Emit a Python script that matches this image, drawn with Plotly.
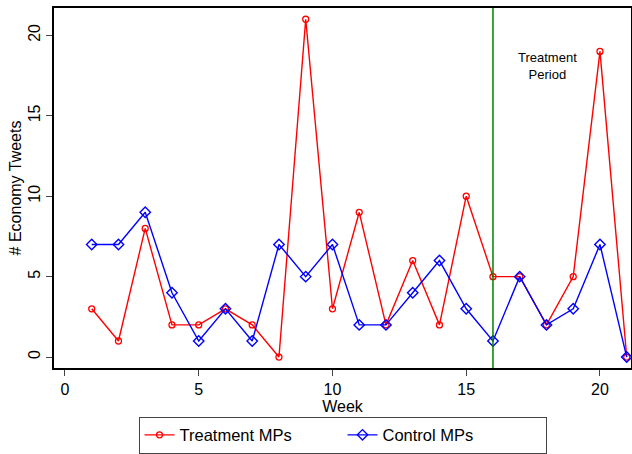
import plotly.graph_objects as go

weeks = list(range(1, 22))
treatment = [3, 1, 8, 2, 2, 3, 2, 0, 21, 3, 9, 2, 6, 2, 10, 5, 5, 2, 5, 19, 0]
control = [7, 7, 9, 4, 1, 3, 1, 7, 5, 7, 2, 2, 4, 6, 3, 1, 5, 2, 3, 7, 0]
x_ticks = [0, 5, 10, 15, 20]
y_ticks = [0, 5, 10, 15, 20]
treatment_start = 16

FONT = "Liberation Sans, Arial, Helvetica, sans-serif"

fig = go.Figure()
fig.add_trace(go.Scatter(
    x=weeks, y=treatment, mode="lines+markers", name="Treatment MPs",
    line=dict(color="#ff0000", width=1.4),
    marker=dict(symbol="circle-open", size=6, color="#ff0000", line=dict(width=1.3)),
))
fig.add_trace(go.Scatter(
    x=weeks, y=control, mode="lines+markers", name="Control MPs",
    line=dict(color="#0000ff", width=1.4),
    marker=dict(symbol="diamond-open", size=8, color="#0000ff", line=dict(width=1.4)),
))

fig.add_shape(type="line", x0=treatment_start, x1=treatment_start, xref="x",
              y0=0, y1=1, yref="paper", line=dict(color="#008000", width=1.5))
fig.add_annotation(x=18.05, y=18.1, xref="x", yref="y", text="Treatment<br>Period",
                   showarrow=False, font=dict(family=FONT, size=13, color="black"),
                   align="center")

fig.update_layout(
    width=632, height=454,
    margin=dict(l=54, r=1, t=8, b=86, autoexpand=False),
    paper_bgcolor="white", plot_bgcolor="white",
    font=dict(family=FONT, size=16, color="black"),
    showlegend=True,
    legend=dict(orientation="h", x=0.5, xanchor="center", y=-0.135, yanchor="top",
                bordercolor="#444444", borderwidth=1, font=dict(size=16.5),
                itemwidth=30, tracegroupgap=0, entrywidthmode="pixels", entrywidth=158),
    xaxis=dict(range=[-0.41, 21.16], tickvals=x_ticks, ticks="outside", ticklen=6,
               tickwidth=1, showgrid=False, zeroline=False, showline=True,
               linecolor="black", linewidth=1.5, mirror=True,
               title=dict(text="Week", standoff=2, font=dict(size=16))),
    yaxis=dict(range=[-0.68, 21.7], tickvals=y_ticks, ticks="outside", ticklen=6,
               tickwidth=1, tickangle=-90, showgrid=False, zeroline=False, showline=True,
               linecolor="black", linewidth=1.5, mirror=True,
               title=dict(text="# Economy Tweets", standoff=0, font=dict(size=16))),
)

fig.write_html("out.html")
